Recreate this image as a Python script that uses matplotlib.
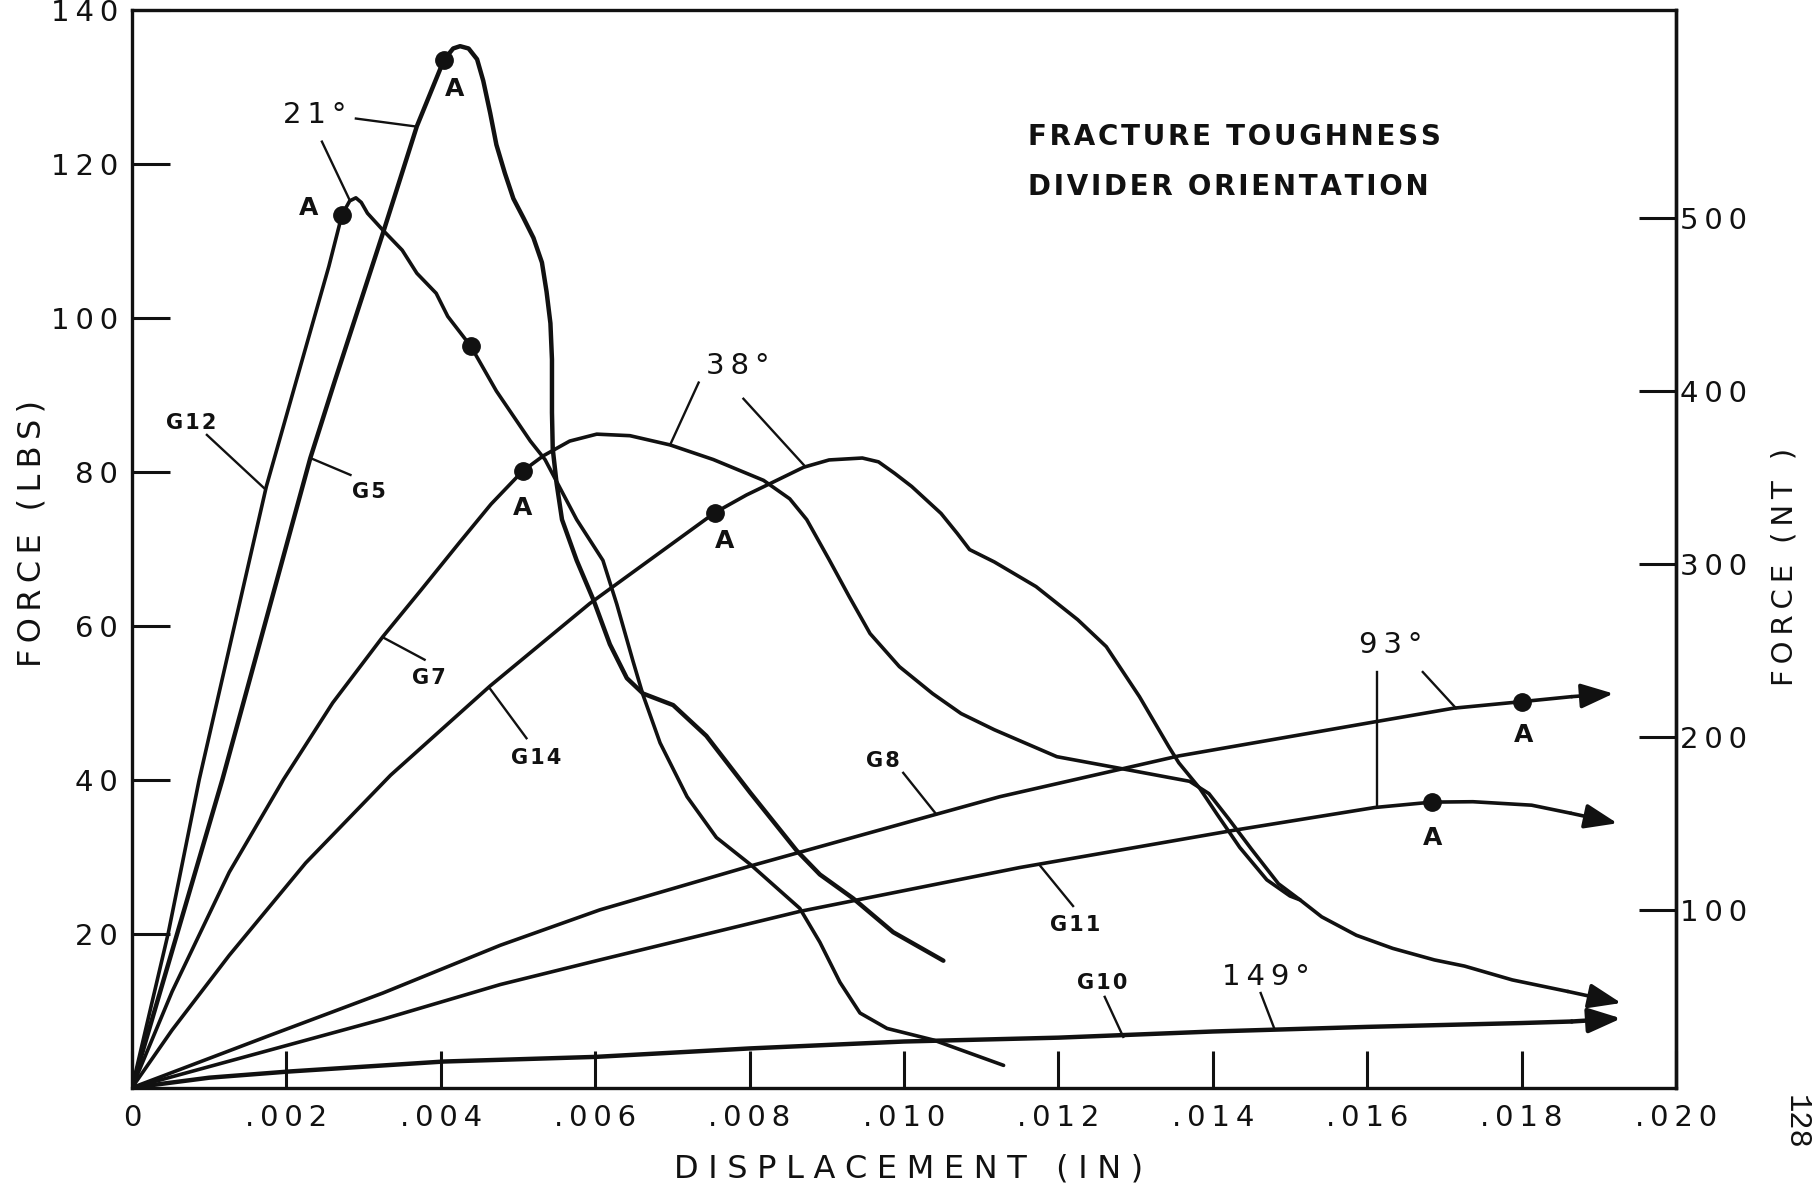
import matplotlib
matplotlib.use("Agg")
import matplotlib.pyplot as plt

plt.rcParams["font.family"] = ["DejaVu Sans"]

# ---- load-displacement traces: displacement (in) vs force (lbs) ----
g12_x = [0, 0.00047, 0.00087, 0.00174, 0.00213, 0.00255, 0.00272, 0.00282, 0.00290,
         0.00297, 0.00305, 0.00325, 0.00350, 0.00369, 0.00394, 0.00409, 0.00439,
         0.00472, 0.00516, 0.00535, 0.00576, 0.00610, 0.00628, 0.00649, 0.00662,
         0.00684, 0.00719, 0.00757, 0.00801, 0.00865, 0.00891, 0.00917, 0.00943,
         0.00978, 0.01038, 0.01129]
g12_y = [0, 20.1, 40.0, 78.1, 91.9, 106.7, 113.4, 115.2, 115.6,
         115.0, 113.6, 111.4, 108.8, 105.8, 103.2, 100.2, 96.3,
         90.5, 84.0, 81.6, 73.8, 68.5, 62.8, 55.4, 51.0,
         44.8, 37.8, 32.5, 29.0, 23.3, 18.9, 13.7, 9.7,
         7.7, 6.2, 2.9]

g5_x = [0, 0.00117, 0.00231, 0.00263, 0.00325, 0.00369, 0.00404, 0.00416, 0.00425,
        0.00436, 0.00447, 0.00455, 0.00464, 0.00472, 0.00483, 0.00494, 0.00507,
        0.00520, 0.00531, 0.00537, 0.00542, 0.00544, 0.00544, 0.00545, 0.00550,
        0.00557, 0.00576, 0.00598, 0.00619, 0.00641, 0.00662, 0.00701, 0.00744,
        0.00801, 0.00861, 0.00891, 0.00934, 0.00986, 0.01051]
g5_y = [0, 40.0, 81.8, 91.9, 111.0, 124.9, 133.5, 135.0, 135.3,
        135.0, 133.6, 130.8, 126.6, 122.5, 118.8, 115.5, 113.0,
        110.4, 107.2, 103.4, 99.3, 94.6, 87.7, 83.0, 78.5,
        73.8, 68.5, 63.3, 57.6, 53.2, 51.2, 49.7, 45.7,
        38.3, 30.8, 27.7, 24.6, 20.2, 16.5]

g7_x = [0, 0.00052, 0.00126, 0.00196, 0.00260, 0.00325, 0.00374, 0.00424, 0.00465,
        0.00506, 0.00533, 0.00567, 0.00602, 0.00645, 0.00697, 0.00753, 0.00818,
        0.00852, 0.00874, 0.00903, 0.00929, 0.00956, 0.00994, 0.01037, 0.01074,
        0.01117, 0.01198, 0.01279, 0.01370, 0.01395, 0.01420, 0.01450, 0.01485,
        0.01513]
g7_y = [0, 12.5, 28.0, 40.0, 50.0, 58.6, 64.6, 70.8, 75.8,
        80.1, 82.1, 84.0, 84.9, 84.7, 83.5, 81.6, 78.9,
        76.5, 73.8, 68.6, 63.8, 59.0, 54.7, 51.2, 48.6,
        46.5, 43.0, 41.5, 39.8, 38.2, 35.0, 31.0, 26.5,
        24.4]

g14_x = [0, 0.00052, 0.00126, 0.00225, 0.00335, 0.00464, 0.00593, 0.00755, 0.00796,
         0.00827, 0.00870, 0.00903, 0.00946, 0.00967, 0.00988, 0.01010, 0.01048,
         0.01069, 0.01085, 0.01117, 0.01171, 0.01225, 0.01262, 0.01305, 0.01343,
         0.01356, 0.01383, 0.01405, 0.01435, 0.01470, 0.01500, 0.01513, 0.01541,
         0.01586, 0.01633, 0.01687, 0.01726, 0.01788, 0.01860, 0.01929]
g14_y = [0, 7.5, 17.2, 29.2, 40.6, 52.2, 62.9, 74.7, 77.0,
         78.5, 80.6, 81.55, 81.8, 81.3, 79.8, 78.1, 74.6,
         72.0, 69.9, 68.3, 65.1, 60.8, 57.3, 50.8, 44.3,
         42.2, 38.9, 35.6, 31.2, 27.0, 24.9, 24.4, 22.2,
         19.8, 18.1, 16.6, 15.8, 14.0, 12.5, 11.0]

g8_x = [0, 0.00176, 0.00325, 0.00477, 0.00606, 0.00801, 0.01041, 0.01124, 0.01356,
        0.01614, 0.01712, 0.01800, 0.01865, 0.01919]
g8_y = [0, 6.7, 12.3, 18.5, 23.1, 28.8, 35.5, 37.8, 43.1,
        47.6, 49.3, 50.15, 50.8, 51.2]

g11_x = [0, 0.00325, 0.00477, 0.00606, 0.00865, 0.01150, 0.01425, 0.01610, 0.01684,
         0.01737, 0.01813, 0.01864, 0.01924]
g11_y = [0, 8.9, 13.4, 16.6, 22.9, 28.6, 33.4, 36.4, 37.1,
         37.15, 36.7, 35.65, 34.35]

g10_x = [0, 0.0010, 0.00203, 0.00404, 0.0060, 0.0080, 0.0100, 0.0120, 0.0140,
         0.0160, 0.0180, 0.01865, 0.01929]
g10_y = [0, 1.3, 2.1, 3.4, 4.0, 5.1, 6.0, 6.5, 7.3,
         7.9, 8.4, 8.6, 9.0]

# traces that run off past the plotted range end in an arrowhead
arrow_traces = ["g14", "g8", "g11", "g10"]

# marked points on the traces (filled dots), and the "A" tags beside them
dot_x = [0.00272, 0.00439, 0.00404, 0.00506, 0.00755, 0.01800, 0.01684]
dot_y = [113.4, 96.3, 133.5, 80.1, 74.7, 50.15, 37.1]
a_label_x = [0.00229, 0.00418, 0.00506, 0.00768, 0.01803, 0.01685]
a_label_y = [114.3, 129.8, 75.3, 71.0, 45.8, 32.4]

# specimen tags: text, position, leader from -> to
tag_text = ["G12", "G5", "G7", "G14", "G8", "G11", "G10"]
tag_x = [0.00077, 0.00307, 0.00384, 0.00523, 0.00973, 0.01222, 0.01257]
tag_y = [86.3, 77.4, 53.2, 42.8, 42.4, 21.1, 13.6]
tag_lead = [((0.00097, 84.8), (0.00171, 77.9)),
            ((0.00231, 81.8), (0.00283, 79.6)),
            ((0.00325, 58.5), (0.00379, 55.6)),
            ((0.00464, 51.8), (0.00511, 45.4)),
            ((0.00999, 40.9), (0.01042, 35.5)),
            ((0.01175, 29.0), (0.01219, 23.6)),
            ((0.01260, 11.8), (0.01284, 6.6))]

# divider orientation angles and their leaders
angle_text = ["21°", "38°", "93°", "149°"]
angle_x = [0.00236, 0.00785, 0.01631, 0.01469]
angle_y = [126.4, 93.7, 57.5, 14.4]
angle_lead = [[((0.00290, 125.9), (0.00369, 124.85)), ((0.00246, 122.9), (0.00281, 115.5))],
              [((0.00734, 91.6), (0.00697, 83.5)), ((0.00792, 89.5), (0.00872, 80.7))],
              [((0.01613, 54.0), (0.01613, 36.4)), ((0.01672, 54.0), (0.01715, 49.3))],
              [((0.01462, 12.3), (0.01480, 7.6))]]

x_ticks = [0, 0.002, 0.004, 0.006, 0.008, 0.010, 0.012, 0.014, 0.016, 0.018, 0.020]
x_tick_labels = ["0", ".002", ".004", ".006", ".008", ".010", ".012", ".014", ".016", ".018", ".020"]
y_ticks = [20, 40, 60, 80, 100, 120, 140]
y_tick_labels = ["20", "40", "60", "80", "100", "120", "140"]
n_ticks = [100, 200, 300, 400, 500]
n_tick_labels = ["100", "200", "300", "400", "500"]

LBF_TO_N = 4.448
N_ZERO_LBS = 0.6


def lbs_to_n(v):
    return (v - N_ZERO_LBS) * LBF_TO_N


def n_to_lbs(v):
    return v / LBF_TO_N + N_ZERO_LBS


def spaced(text, gap="\u2009"):
    return gap.join(text)


INK = "#111111"
LW = 2.6

fig = plt.figure(figsize=(18.12, 11.87), dpi=100)
ax = fig.add_axes([0.07285, 0.08366, 0.85209, 0.90792])
ax.set_xlim(0, 0.020)
ax.set_ylim(0, 140)

traces = {"g12": (g12_x, g12_y), "g5": (g5_x, g5_y), "g7": (g7_x, g7_y),
          "g14": (g14_x, g14_y), "g8": (g8_x, g8_y), "g11": (g11_x, g11_y),
          "g10": (g10_x, g10_y)}
for name, (xs, ys) in traces.items():
    lw = 3.2 if name in ("g10", "g5") else LW
    if name in arrow_traces:
        ax.plot(xs[:-1], ys[:-1], color=INK, lw=lw, solid_joinstyle="round",
                solid_capstyle="round")
        ax.annotate("", xy=(xs[-1], ys[-1]), xytext=(xs[-2], ys[-2]),
                    arrowprops=dict(arrowstyle="-|>,head_length=1.0,head_width=0.38",
                                    mutation_scale=20, color=INK, lw=lw,
                                    shrinkA=0, shrinkB=0))
    else:
        ax.plot(xs, ys, color=INK, lw=lw, solid_joinstyle="round",
                solid_capstyle="round")

ax.plot(dot_x, dot_y, "o", color=INK, ms=12.5, zorder=5)

for x, y in zip(a_label_x, a_label_y):
    ax.text(x, y, "A", ha="center", va="center", fontsize=18, fontweight="bold",
            color=INK)

for t, x, y, (p0, p1) in zip(tag_text, tag_x, tag_y, tag_lead):
    ax.text(x, y, spaced(t, "\u200a"), ha="center", va="center", fontsize=15,
            fontweight="bold", color=INK)
    ax.plot([p0[0], p1[0]], [p0[1], p1[1]], color=INK, lw=1.7)

for t, x, y, leads in zip(angle_text, angle_x, angle_y, angle_lead):
    ax.text(x, y, spaced(t), ha="center", va="center", fontsize=21, color=INK)
    for p0, p1 in leads:
        ax.plot([p0[0], p1[0]], [p0[1], p1[1]], color=INK, lw=1.7)

ax.text(0.0116, 123.5, spaced("FRACTURE TOUGHNESS", "\u200a"), ha="left",
        va="center", fontsize=20, fontweight="bold", color=INK)
ax.text(0.0116, 117.05, spaced("DIVIDER ORIENTATION", "\u200a"), ha="left",
        va="center", fontsize=20, fontweight="bold", color=INK)

for side in ("left", "right", "top", "bottom"):
    ax.spines[side].set_linewidth(2.4)
    ax.spines[side].set_color(INK)

ax.set_xticks(x_ticks, labels=[spaced(s) for s in x_tick_labels])
ax.set_yticks(y_ticks, labels=[spaced(s) for s in y_tick_labels])
ax.tick_params(axis="both", direction="in", length=27, width=2.2, colors=INK,
               labelsize=21, right=False, top=False)
ax.tick_params(axis="x", pad=12)
ax.tick_params(axis="y", pad=10)

sec = ax.secondary_yaxis("right", functions=(lbs_to_n, n_to_lbs))
sec.set_yticks(n_ticks, labels=[spaced(s) for s in n_tick_labels])
sec.tick_params(direction="in", length=27, width=2.2, colors=INK, labelsize=21, pad=3)
sec.spines["right"].set_linewidth(2.4)
sec.minorticks_off()

ax.text(-0.0648, 0.514, spaced("FORCE (LBS)"), transform=ax.transAxes, rotation=90,
        ha="center", va="center", fontsize=23, color=INK)
ax.text(1.0706, 0.483, spaced("FORCE (NT )"), transform=ax.transAxes, rotation=90,
        ha="center", va="center", fontsize=21, color=INK)
ax.text(0.503, -0.0754, spaced("DISPLACEMENT (IN)", "\u2009\u200a"),
        transform=ax.transAxes, ha="center", va="center", fontsize=23, color=INK)
ax.text(1.0777, -0.0319, "128", transform=ax.transAxes, rotation=-90,
        ha="center", va="center", fontsize=22, family="Liberation Mono", color=INK)

fig.savefig("out.png", dpi=100, facecolor="white")
